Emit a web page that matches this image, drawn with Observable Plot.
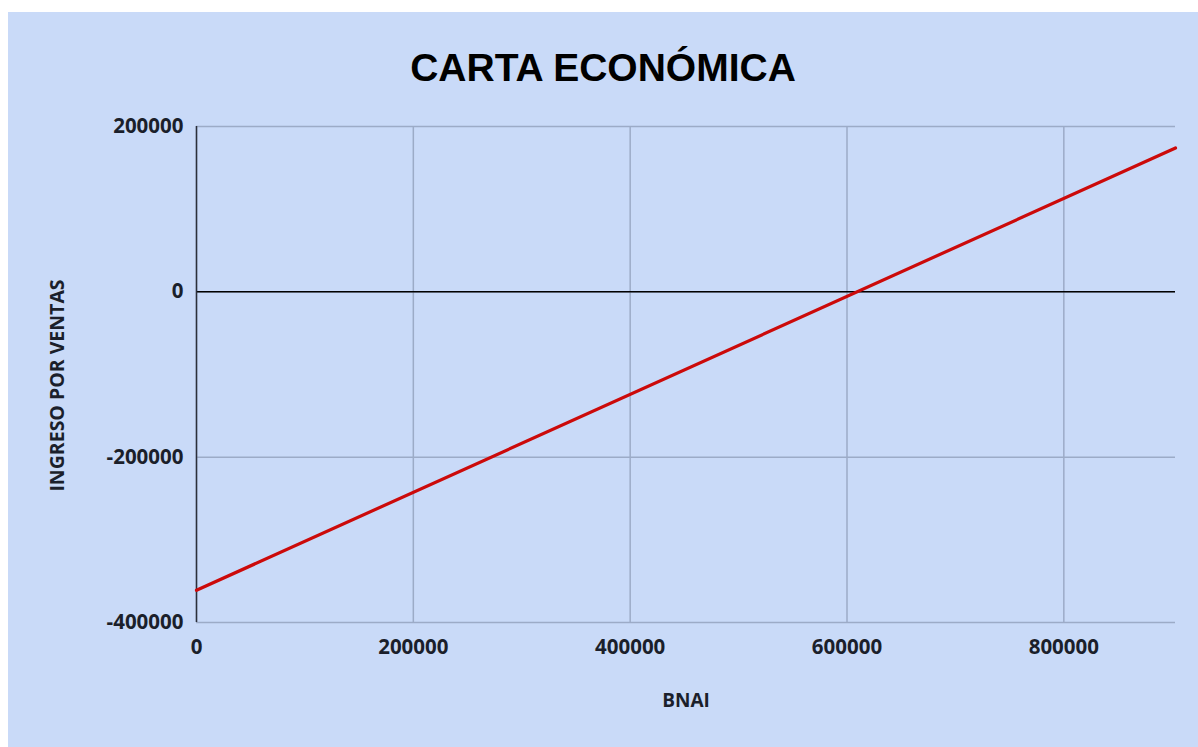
<!DOCTYPE html>
<html>
<head>
<meta charset="utf-8">
<script src="https://cdn.jsdelivr.net/npm/d3@7"></script>
<script src="https://cdn.jsdelivr.net/npm/@observablehq/plot@0.6"></script>
<style>
  html, body { margin: 0; padding: 0; background: #ffffff; }
  #card { position: absolute; left: 8px; top: 12px; width: 1190px; height: 735px; background: #c9daf8; overflow: hidden; }
  #title { position: absolute; left: 0; top: 0; width: 1190px; height: 112px; line-height: 112px; text-align: center;
           font-family: "Liberation Sans", Arial, sans-serif; font-weight: bold; font-size: 39px; color: #000; margin: 0; }
  #chart { position: absolute; left: 0; top: 88px; }
</style>
</head>
<body>
<div id="card">
  <h1 id="title">CARTA ECONÓMICA</h1>
  <div id="chart"></div>
</div>
<script>
// Data
const bnai = [0, 903000];
const ingreso = [-361000, 174000];
const xTicks = [0, 200000, 400000, 600000, 800000];
const yTicks = [-400000, -200000, 0, 200000];
const xLabel = "BNAI";
const yLabel = "INGRESO POR VENTAS";

const data = bnai.map((x, i) => ({x, y: ingreso[i]}));
const fmt = d => String(d);
const gridColor = "#9cabc7";

const chart = Plot.plot({
  width: 1190,
  height: 647,
  marginTop: 26,
  marginLeft: 188,
  marginRight: 23,
  marginBottom: 125,
  style: { background: "transparent", fontFamily: "'Open Sans', sans-serif", fontWeight: "bold", fontSize: "20.5px", color: "#1b1f2b" },
  x: { domain: [0, 903000] },
  y: { domain: [-400000, 200000] },
  marks: [
    Plot.gridX(xTicks, { stroke: gridColor, strokeOpacity: 1, strokeWidth: 1.5 }),
    Plot.gridY(yTicks, { stroke: gridColor, strokeOpacity: 1, strokeWidth: 1.5 }),
    Plot.ruleY([0], { stroke: "#000", strokeWidth: 1.5 }),
    Plot.ruleX([0], { stroke: "#2b2f3a", strokeWidth: 1.5 }),
    Plot.axisX(xTicks, { tickSize: 0, tickPadding: 17, tickFormat: fmt, label: null, fontSize: 20.5 }),
    Plot.axisY(yTicks, { tickSize: 0, tickPadding: 13, tickFormat: fmt, label: null, fontSize: 20.5 }),
    Plot.line(data, { x: "x", y: "y", stroke: "#cc0a0a", strokeWidth: 3.2 }),
    Plot.text([xLabel], { frameAnchor: "bottom", dy: 84, fontSize: 19, fontWeight: "bold" }),
    Plot.text([yLabel], { frameAnchor: "left", textAnchor: "middle", dx: -139, dy: 11, rotate: -90, fontSize: 19.5, fontWeight: "bold" })
  ]
});
document.getElementById("chart").appendChild(chart);
</script>
</body>
</html>
